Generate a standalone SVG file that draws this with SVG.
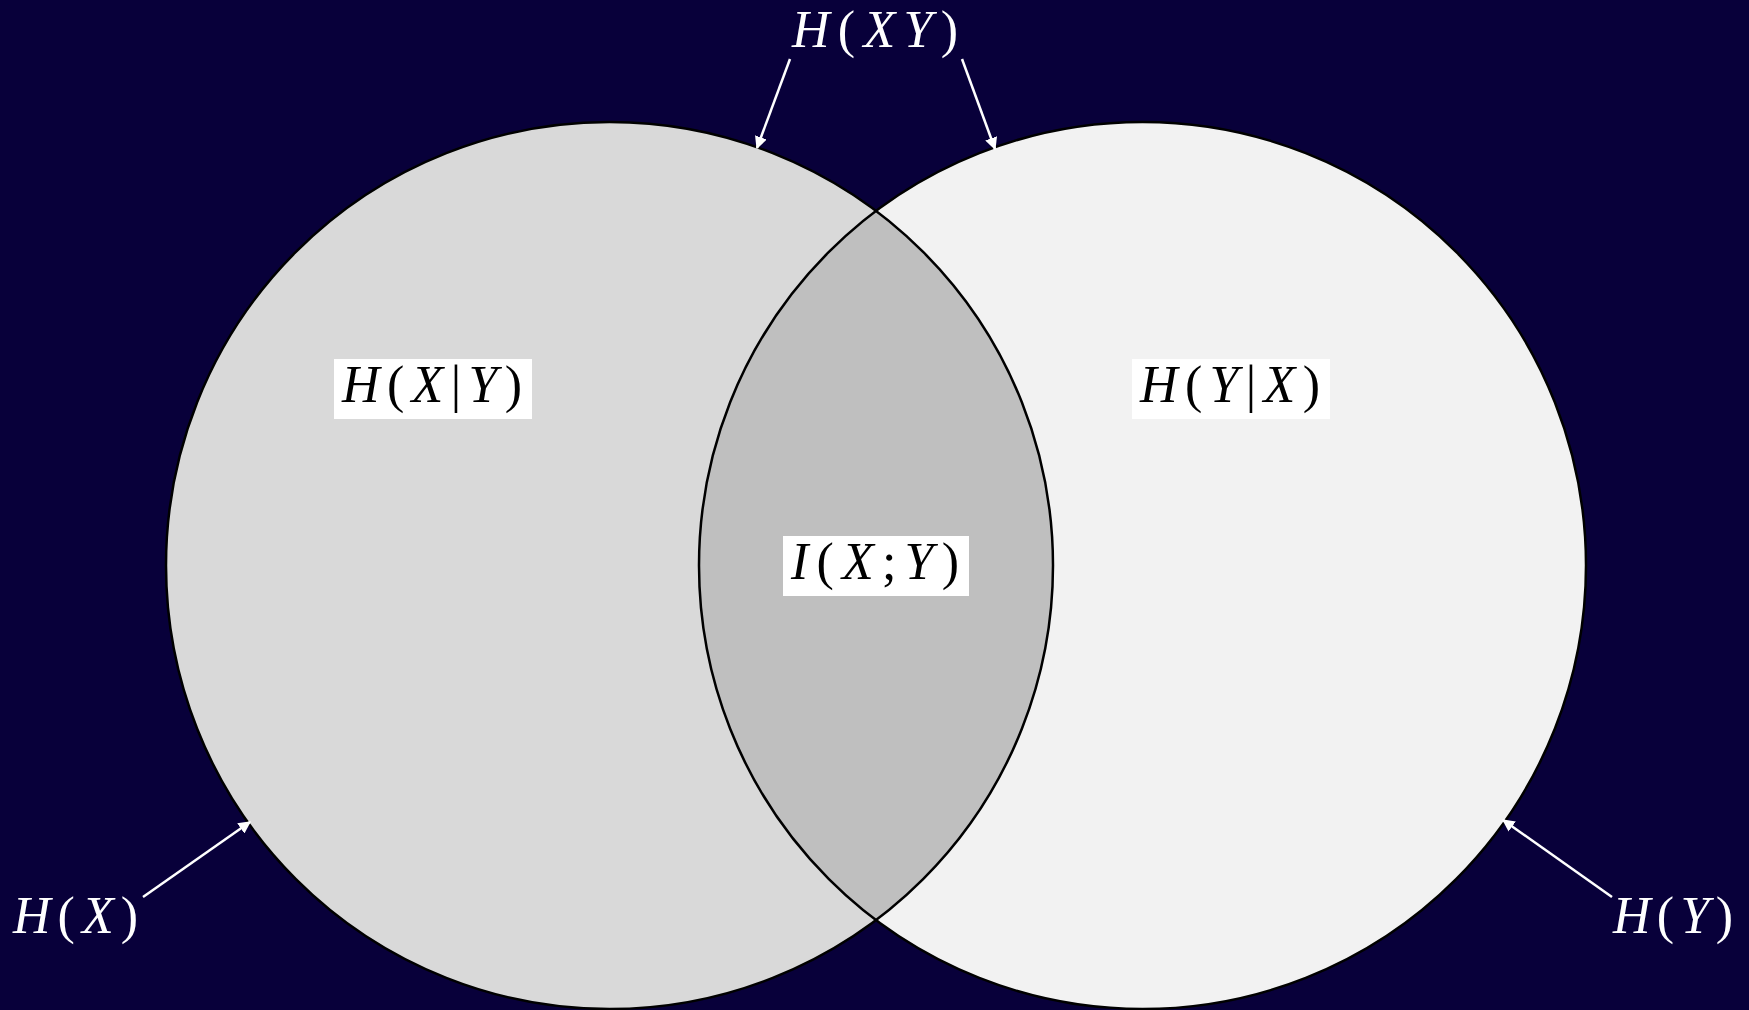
<svg xmlns="http://www.w3.org/2000/svg" width="1749" height="1010" viewBox="0 0 1749 1010">
<style>
.bg{fill:#08003a}
.c{stroke:#000;stroke-width:2.5}
.lbl{font-family:"Liberation Serif","DejaVu Serif",serif;font-size:52px}
.w{fill:#fff}
.k{fill:#000}
.i{font-style:italic}
.box{fill:#fff}
.arr{stroke:#fff;stroke-width:2.5;fill:none;marker-end:url(#ah)}
</style>
<defs>
<marker id="ah" viewBox="0 0 10 10" refX="9" refY="5" markerWidth="5" markerHeight="5" orient="auto" markerUnits="strokeWidth">
<path d="M0,0 L10,5 L0,10 z" fill="#fff"/>
</marker>
<clipPath id="clipL"><circle cx="609.5" cy="565.5" r="443.5"/></clipPath>
</defs>
<rect class="bg" x="0" y="0" width="1749" height="1010"/>
<g id="setX">
<circle cx="609.5" cy="565.5" r="443.5" fill="#d9d9d9"/>
</g>
<g id="setY">
<circle cx="1142.5" cy="565.5" r="443.5" fill="#f2f2f2"/>
</g>
<g id="intersection">
<circle cx="1142.5" cy="565.5" r="443.5" fill="#bfbfbf" clip-path="url(#clipL)"/>
</g>
<g id="outlines" fill="none">
<circle class="c" cx="609.5" cy="565.5" r="443.5"/>
<circle class="c" cx="1142.5" cy="565.5" r="443.5"/>
</g>
<g id="HXgivenY">
<rect class="box" x="334" y="359" width="198" height="60"/>
<text class="lbl k" x="342" y="402" textLength="180" lengthAdjust="spacing"><tspan class="i">H</tspan>(<tspan class="i">X</tspan>|<tspan class="i">Y</tspan>)</text>
</g>
<g id="HYgivenX">
<rect class="box" x="1132" y="359" width="198" height="60"/>
<text class="lbl k" x="1140" y="402" textLength="180" lengthAdjust="spacing"><tspan class="i">H</tspan>(<tspan class="i">Y</tspan>|<tspan class="i">X</tspan>)</text>
</g>
<g id="IXY">
<rect class="box" x="783" y="536" width="186" height="60"/>
<text class="lbl k" x="791" y="579" textLength="168" lengthAdjust="spacing"><tspan class="i">I</tspan>(<tspan class="i">X</tspan>;<tspan class="i">Y</tspan>)</text>
</g>
<g id="HXY">
<text class="lbl w" x="792" y="47" textLength="166" lengthAdjust="spacing"><tspan class="i">H</tspan>(<tspan class="i">XY</tspan>)</text>
</g>
<g id="HX">
<text class="lbl w" x="13" y="933" textLength="125" lengthAdjust="spacing"><tspan class="i">H</tspan>(<tspan class="i">X</tspan>)</text>
</g>
<g id="HY">
<text class="lbl w" x="1613" y="933" textLength="120" lengthAdjust="spacing"><tspan class="i">H</tspan>(<tspan class="i">Y</tspan>)</text>
</g>
<g id="connectors">
<line class="arr" x1="790" y1="59" x2="757" y2="148"/>
<line class="arr" x1="962" y1="59" x2="995" y2="149"/>
<line class="arr" x1="143" y1="897" x2="250" y2="822"/>
<line class="arr" x1="1612" y1="897" x2="1503" y2="820"/>
</g>
</svg>
